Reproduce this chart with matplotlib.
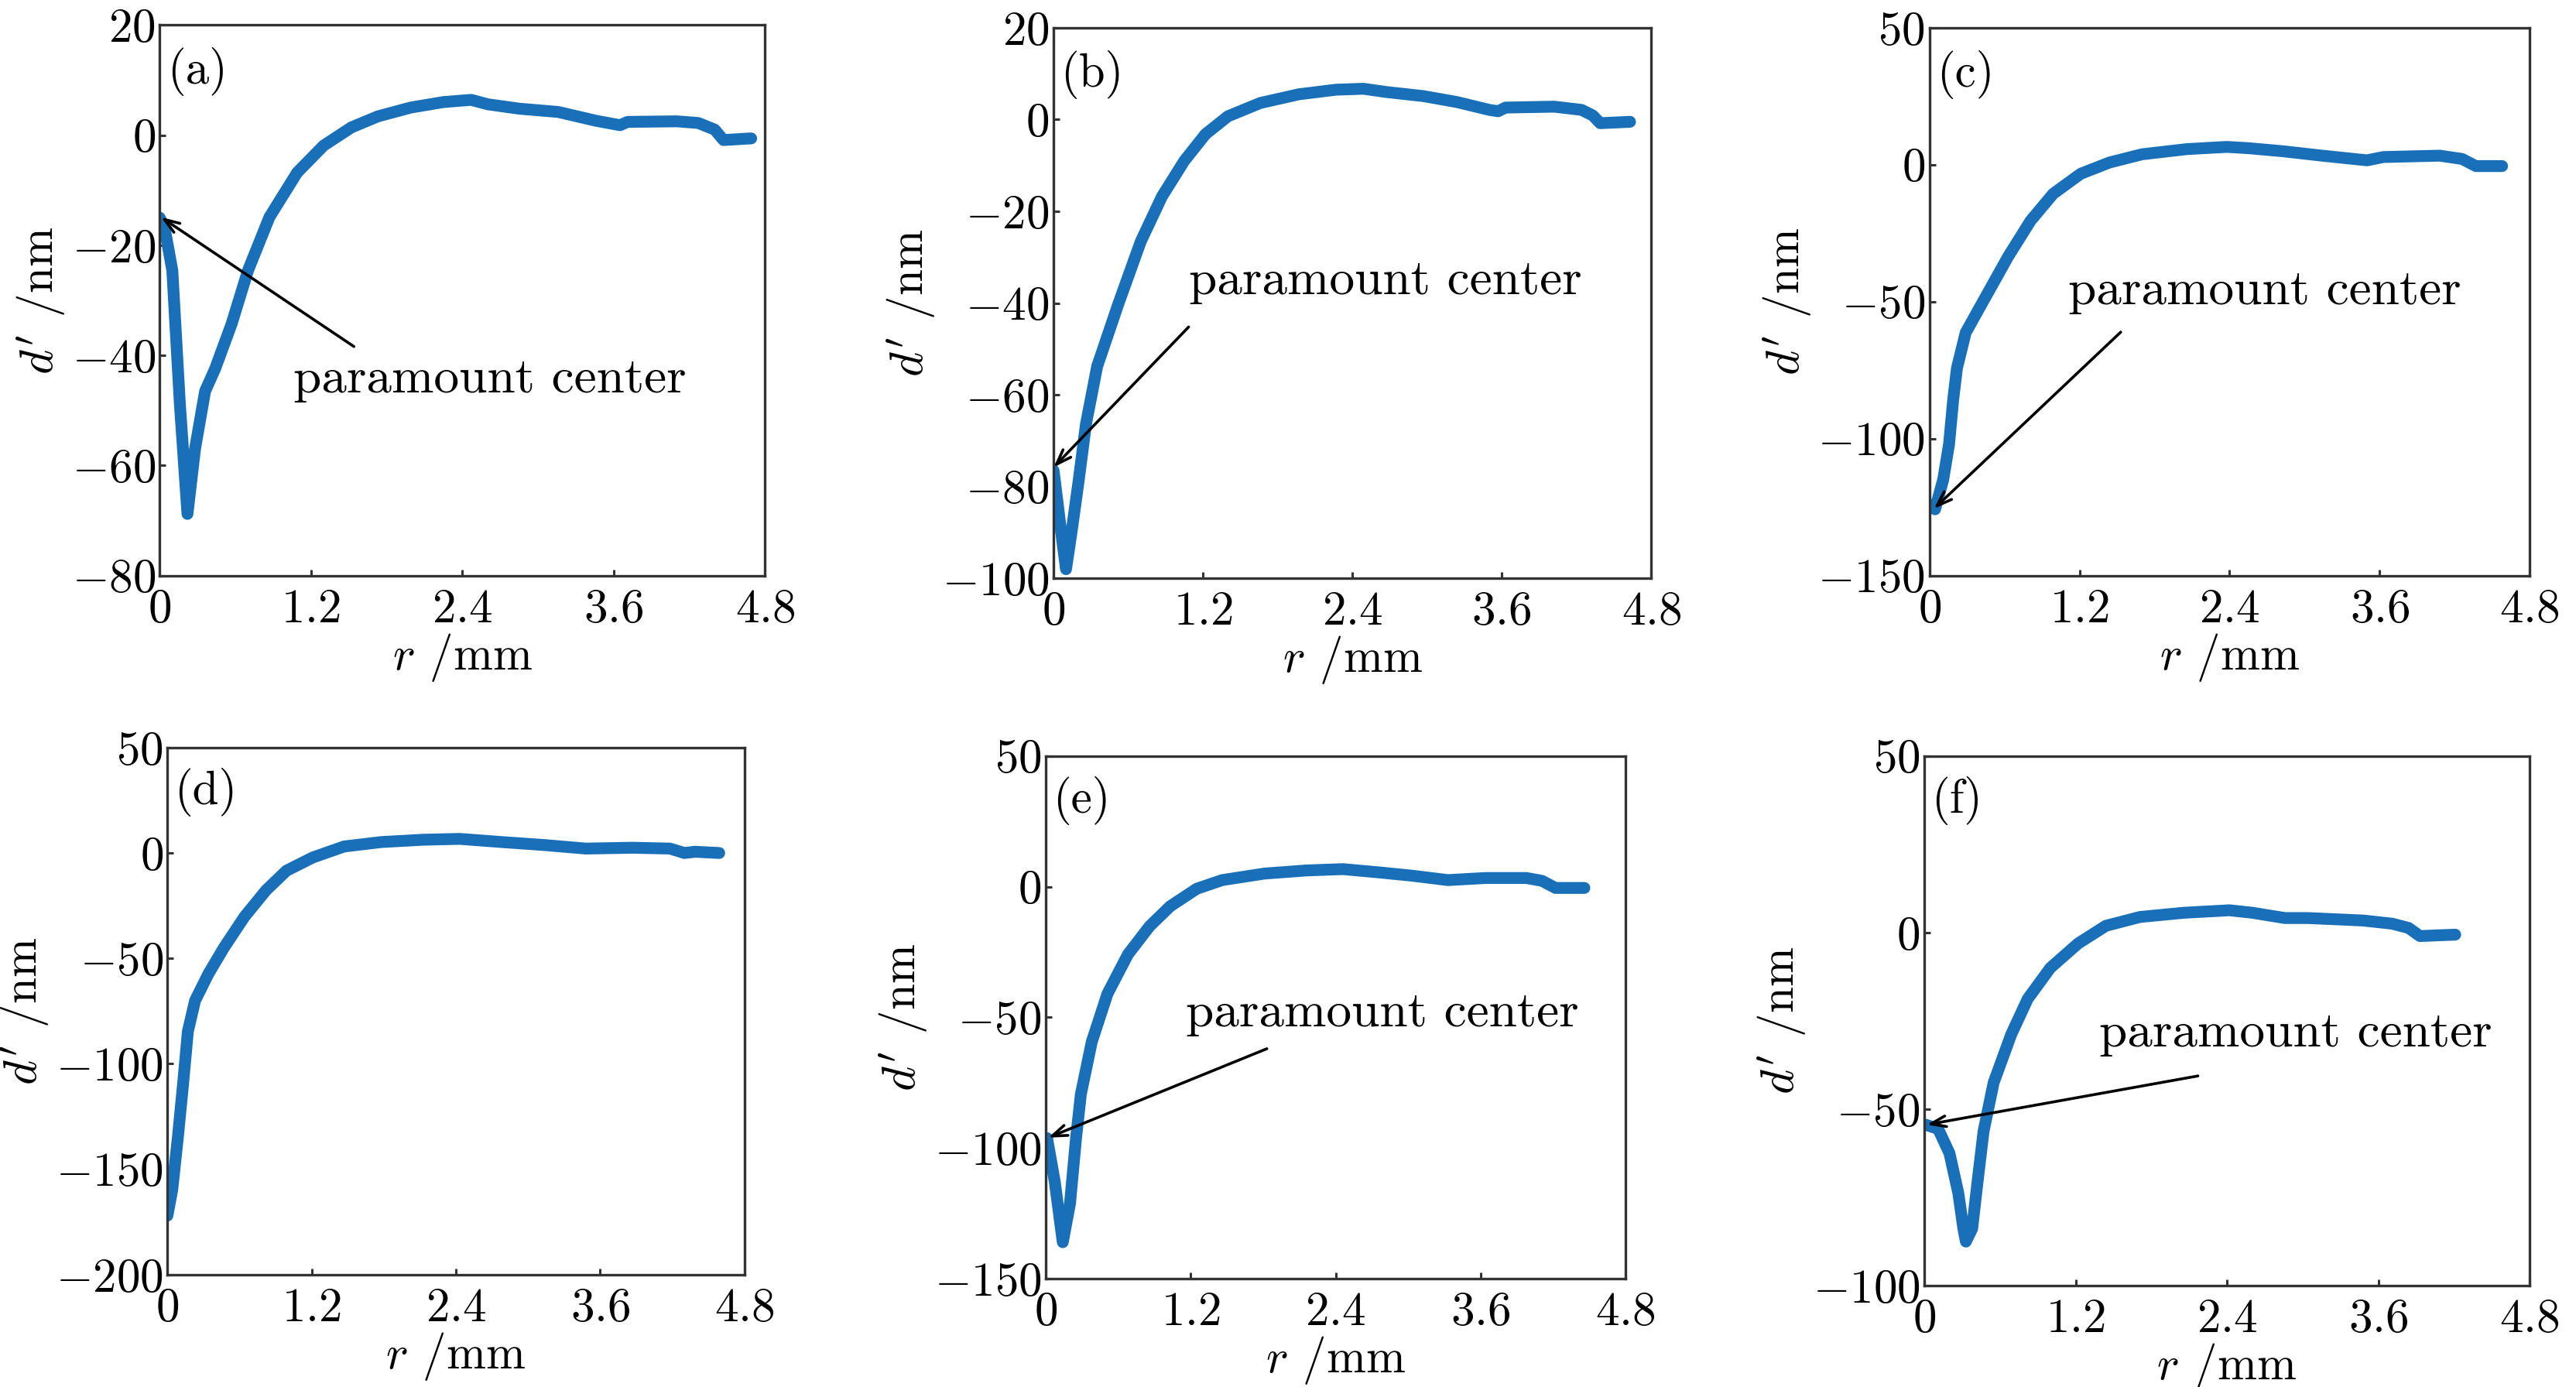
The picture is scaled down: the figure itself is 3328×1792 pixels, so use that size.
import numpy as np
import matplotlib.pyplot as plt

plt.rcParams['font.family'] = 'cmr10'
plt.rcParams['mathtext.fontset'] = 'cm'
plt.rcParams['axes.formatter.use_mathtext'] = True

# radial profiles d' (nm) vs r (mm)
a_r = [0.0, 0.04, 0.1, 0.16, 0.22, 0.28, 0.36, 0.44, 0.57, 0.70, 0.87, 1.09, 1.30, 1.52, 1.73, 1.99, 2.25, 2.47, 2.6, 2.85, 3.16, 3.46, 3.65, 3.71, 4.1, 4.27, 4.40, 4.47, 4.69]
a_d = [-15.0, -17.0, -24.6, -48.9, -68.8, -57.0, -46.5, -42.4, -34.3, -24.6, -14.9, -6.8, -1.9, 1.4, 3.4, 5.0, 6.0, 6.4, 5.6, 4.8, 4.2, 2.6, 1.8, 2.4, 2.5, 2.2, 1.0, -0.9, -0.6]

b_r = [0.0, 0.066, 0.10, 0.15, 0.2, 0.26, 0.35, 0.52, 0.70, 0.87, 1.05, 1.22, 1.40, 1.66, 1.97, 2.27, 2.49, 2.67, 2.97, 3.24, 3.5, 3.57, 3.63, 4.02, 4.24, 4.33, 4.39, 4.63]
b_d = [-76.5, -91.0, -98.0, -88.8, -79.0, -66.4, -53.8, -40.2, -26.6, -16.8, -9.0, -3.2, 0.7, 3.6, 5.5, 6.5, 6.7, 6.0, 5.1, 3.8, 2.1, 1.8, 2.6, 2.8, 2.1, 0.9, -0.8, -0.5]

c_r = [0.02, 0.045, 0.11, 0.157, 0.19, 0.22, 0.29, 0.45, 0.63, 0.81, 0.99, 1.21, 1.44, 1.70, 2.06, 2.38, 2.56, 2.83, 3.14, 3.50, 3.63, 4.08, 4.26, 4.37, 4.58]
c_d = [-124.2, -125.8, -115.0, -102.0, -85.8, -74.3, -61.3, -48.2, -33.5, -20.4, -10.6, -3.3, 0.8, 3.8, 5.7, 6.5, 6.0, 4.9, 3.3, 1.6, 2.8, 3.3, 2.1, -0.5, -0.5]

d_r = [0.0, 0.04, 0.087, 0.13, 0.17, 0.23, 0.34, 0.47, 0.64, 0.82, 0.99, 1.21, 1.47, 1.78, 2.13, 2.43, 2.78, 3.13, 3.48, 3.87, 4.18, 4.30, 4.39, 4.59]
d_d = [-172.0, -159.7, -134.7, -109.6, -84.6, -70.0, -57.4, -44.9, -30.3, -17.7, -8.4, -2.1, 3.1, 5.2, 6.3, 6.7, 5.2, 3.8, 2.1, 2.5, 2.1, 0.0, 0.6, 0.0]

e_r = [0.01, 0.074, 0.14, 0.20, 0.25, 0.29, 0.38, 0.51, 0.68, 0.86, 1.03, 1.25, 1.46, 1.81, 2.16, 2.46, 2.77, 3.03, 3.33, 3.64, 3.98, 4.11, 4.22, 4.46]
e_d = [-96.2, -112.9, -136.0, -121.2, -96.2, -79.4, -59.4, -41.0, -25.9, -15.1, -7.5, -0.8, 2.5, 5.0, 6.2, 6.7, 5.4, 4.2, 2.5, 3.3, 3.3, 2.2, -0.5, -0.5]

f_r = [0.01, 0.11, 0.2, 0.27, 0.31, 0.33, 0.38, 0.42, 0.47, 0.55, 0.69, 0.82, 1.0, 1.22, 1.44, 1.71, 2.06, 2.42, 2.6, 2.86, 3.04, 3.48, 3.71, 3.84, 3.93, 4.21]
f_d = [-54.4, -55.6, -62.5, -73.8, -83.8, -87.5, -83.8, -71.3, -56.3, -42.5, -28.8, -18.8, -10.0, -3.1, 1.9, 4.4, 5.6, 6.3, 5.6, 4.1, 4.1, 3.4, 2.5, 1.3, -1.0, -0.6]

panel_names = ['(a)', '(b)', '(c)', '(d)', '(e)', '(f)']
xs = [a_r, b_r, c_r, d_r, e_r, f_r]
ys = [a_d, b_d, c_d, d_d, e_d, f_d]
ylims = [(-80, 20), (-100, 20), (-150, 50), (-200, 50), (-150, 50), (-100, 50)]
ysteps = [20, 20, 50, 50, 50, 50]
x_ticks = [0, 1.2, 2.4, 3.6, 4.8]
x_ticklabels = ['0', '1.2', '2.4', '3.6', '4.8']

# annotation: (text pos, arrow tail, arrow head), None where no label
notes = [((1.06, -44.5), (1.54, -38.4), (0.01, -14.9)),
         ((1.09, -35.4), (1.085, -45.2), (0.0, -75.8)),
         ((1.11, -46.4), (1.53, -61.1), (0.036, -125.6)),
         None,
         ((1.16, -48.7), (1.83, -62.0), (0.02, -96.0)),
         ((1.39, -28.75), (2.17, -40.6), (0.02, -54.4))]

boxes = [[0.062, 0.585, 0.235, 0.397],
         [0.409, 0.583, 0.232, 0.397],
         [0.749, 0.585, 0.233, 0.395],
         [0.065, 0.081, 0.224, 0.380],
         [0.406, 0.078, 0.225, 0.377],
         [0.747, 0.073, 0.235, 0.382]]

line_color = '#1a70b8'
spine_color = '#333333'

fig = plt.figure(figsize=(16.64, 8.96), dpi=200)

for i in range(6):
    ax = fig.add_axes(boxes[i])
    ax.plot(xs[i], ys[i], color=line_color, lw=5.5, solid_joinstyle='round', solid_capstyle='round')
    ax.set_xlim(0, 4.8)
    ax.set_ylim(*ylims[i])
    yt = np.arange(ylims[i][0], ylims[i][1] + 1, ysteps[i])
    ax.set_yticks(yt)
    ax.set_yticklabels(['$%d$' % v for v in yt])
    ax.set_xticks(x_ticks)
    ax.set_xticklabels(['$%s$' % s for s in x_ticklabels])
    ax.tick_params(direction='in', length=2.8, width=1.1, color=spine_color, labelsize=22, top=False, right=False)
    ax.tick_params(axis='x', pad=6)
    ax.tick_params(axis='y', pad=2)
    for sp in ax.spines.values():
        sp.set_color(spine_color)
        sp.set_linewidth(1.2)
    ax.set_xlabel(r'$r$ /mm', fontsize=22, labelpad=0)
    ax.set_ylabel(r"$d'$ /nm", fontsize=22, labelpad=2)
    ax.text(0.012, 0.915, panel_names[i], transform=ax.transAxes, fontsize=22, ha='left', va='center')
    if notes[i] is not None:
        tpos, tail, head = notes[i]
        ax.text(tpos[0], tpos[1], 'paramount center', fontsize=23.5, ha='left', va='center')
        ax.annotate('', xy=head, xytext=tail,
                    arrowprops=dict(arrowstyle='->,head_length=0.7,head_width=0.25', color='black', lw=1.3,
                                    shrinkA=0, shrinkB=0))

plt.savefig('out.png', dpi=200)
